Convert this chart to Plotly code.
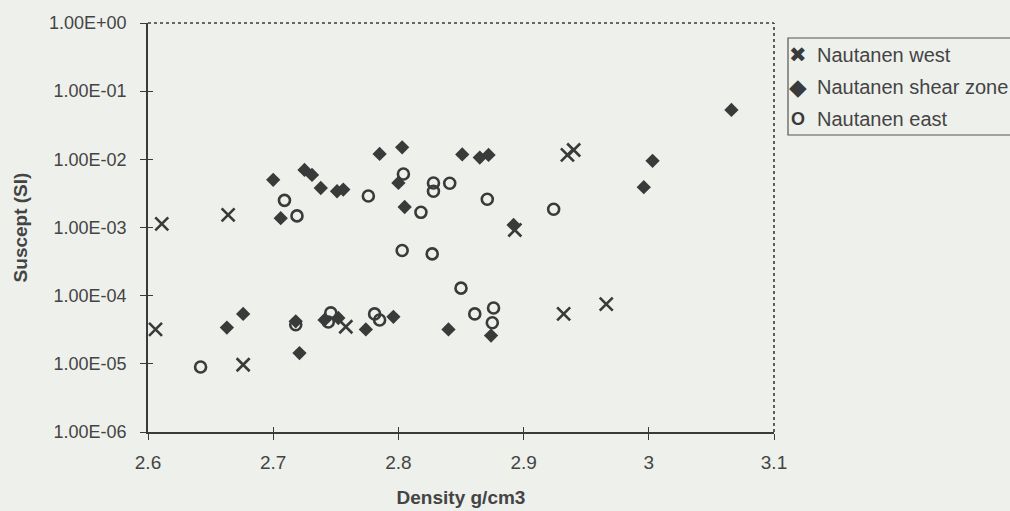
import plotly.graph_objects as go

# ---- data ----
west_x = [2.611, 2.664, 2.893, 2.935, 2.940, 2.606, 2.676, 2.758, 2.932, 2.966]
west_y = [1.13e-3, 1.53e-3, 9.2e-4, 1.16e-2, 1.37e-2, 3.2e-5, 9.7e-6, 3.5e-5, 5.4e-5, 7.5e-5]

shear_x = [2.700, 2.706, 2.725, 2.731, 2.738, 2.751, 2.756, 2.785, 2.803, 2.800,
           2.805, 2.851, 2.865, 2.872, 2.892, 2.996, 3.003, 3.066, 2.663, 2.676,
           2.718, 2.721, 2.741, 2.752, 2.774, 2.796, 2.840, 2.874]
shear_y = [5.0e-3, 1.37e-3, 7.0e-3, 5.9e-3, 3.8e-3, 3.4e-3, 3.6e-3, 1.2e-2, 1.5e-2, 4.5e-3,
           2.0e-3, 1.18e-2, 1.06e-2, 1.16e-2, 1.09e-3, 3.9e-3, 9.5e-3, 5.3e-2, 3.4e-5, 5.4e-5,
           4.2e-5, 1.44e-5, 4.4e-5, 4.7e-5, 3.2e-5, 4.9e-5, 3.2e-5, 2.6e-5]

east_x = [2.709, 2.719, 2.776, 2.804, 2.818, 2.828, 2.828, 2.841, 2.871, 2.924,
          2.803, 2.827, 2.642, 2.718, 2.746, 2.744, 2.781, 2.785, 2.850, 2.861,
          2.876, 2.875]
east_y = [2.5e-3, 1.48e-3, 2.9e-3, 6.1e-3, 1.67e-3, 4.5e-3, 3.4e-3, 4.45e-3, 2.6e-3, 1.85e-3,
          4.6e-4, 4.1e-4, 9.0e-6, 3.75e-5, 5.6e-5, 4.1e-5, 5.4e-5, 4.4e-5, 1.29e-4, 5.4e-5,
          6.6e-5, 4.0e-5]

series_names = ["Nautanen west", "Nautanen shear zone", "Nautanen east"]
legend_glyphs = ["\u2716", "\u25C6", "<b>O</b>"]

x_ticks = [2.6, 2.7, 2.8, 2.9, 3.0, 3.1]
x_ticktext = ["2.6", "2.7", "2.8", "2.9", "3", "3.1"]
y_ticks = [1e0, 1e-1, 1e-2, 1e-3, 1e-4, 1e-5, 1e-6]
y_ticktext = ["1.00E+00", "1.00E-01", "1.00E-02", "1.00E-03", "1.00E-04", "1.00E-05", "1.00E-06"]

x_title = "Density g/cm3"
y_title = "Suscept (SI)"

# ---- styling ----
BG = "#eef0ec"
INK = "#3a3a3a"
TXT = "#444444"
FONT = "Liberation Sans, Arial, sans-serif"

fig = go.Figure()
fig.add_trace(go.Scatter(
    x=west_x, y=west_y, mode="markers", name=series_names[0],
    marker=dict(symbol="x-thin-open", size=13, line=dict(width=2.6, color=INK), color=INK),
))
fig.add_trace(go.Scatter(
    x=shear_x, y=shear_y, mode="markers", name=series_names[1],
    marker=dict(symbol="diamond", size=11, color=INK, line=dict(width=0)),
))
fig.add_trace(go.Scatter(
    x=east_x, y=east_y, mode="markers", name=series_names[2],
    marker=dict(symbol="circle-open", size=11, line=dict(width=2.6, color=INK), color=INK),
))

# inner half of the crossing ticks (overlay axes, no labels)
fig.add_trace(go.Scatter(x=[None], y=[None], xaxis="x2", yaxis="y2", showlegend=False, hoverinfo="skip"))

# ---- legend drawn as box + text (reference legend is clipped at the right edge) ----
L, R, T, B = 148, 774, 23, 432
def px(xp):
    return (xp - L) / (R - L)
def py(yp):
    return (B - yp) / (B - T)

annotations = []
glyph_sizes = [21, 23, 18]
for i, (nm, gl) in enumerate(zip(series_names, legend_glyphs)):
    yc = 55 + 32 * i
    annotations.append(dict(xref="paper", yref="paper", x=px(798), y=py(yc), text=gl,
                            showarrow=False, xanchor="center", yanchor="middle",
                            font=dict(family="DejaVu Sans, sans-serif" if i < 2 else FONT,
                                      size=glyph_sizes[i], color=INK)))
    annotations.append(dict(xref="paper", yref="paper", x=px(815), y=py(yc), text=nm,
                            showarrow=False, xanchor="left", yanchor="middle",
                            font=dict(family=FONT, size=20, color=TXT)))

shapes = [
    dict(type="line", xref="paper", yref="paper", x0=0, x1=1, y0=1, y1=1,
         line=dict(color=INK, width=1.6, dash="dot")),
    dict(type="line", xref="paper", yref="paper", x0=1, x1=1, y0=0, y1=1,
         line=dict(color=INK, width=1.6, dash="dot")),
    dict(type="rect", xref="paper", yref="paper", x0=px(788), x1=px(1020), y0=py(135), y1=py(38),
         line=dict(color="#555555", width=1.2), fillcolor=BG, layer="below"),
]

fig.update_layout(
    width=1010, height=511,
    paper_bgcolor=BG, plot_bgcolor=BG,
    margin=dict(l=L, r=1010 - R, t=T, b=511 - B, autoexpand=False),
    font=dict(family=FONT, size=18, color=TXT),
    showlegend=False,
    xaxis=dict(
        range=[2.6, 3.1], tickvals=x_ticks, ticktext=x_ticktext,
        showgrid=False, zeroline=False, showline=True, linecolor=INK, linewidth=1.6,
        ticks="outside", ticklen=6, tickwidth=1.2, tickcolor=INK,
        tickfont=dict(family=FONT, size=19, color=TXT), ticklabelstandoff=6,
        title=dict(text="<b>" + x_title + "</b>", font=dict(family=FONT, size=19, color=TXT), standoff=19),
    ),
    yaxis=dict(
        type="log", range=[-6, 0], tickvals=y_ticks, ticktext=y_ticktext,
        showgrid=False, zeroline=False, showline=True, linecolor=INK, linewidth=1.6,
        ticks="outside", ticklen=6, tickwidth=1.2, tickcolor=INK,
        tickfont=dict(family=FONT, size=18, color=TXT), ticklabelstandoff=10,
        title=dict(text="<b>" + y_title + "</b>", font=dict(family=FONT, size=19, color=TXT), standoff=16),
    ),
    xaxis2=dict(
        overlaying="x", range=[2.6, 3.1], tickvals=x_ticks, showticklabels=False,
        showgrid=False, zeroline=False, showline=False,
        ticks="inside", ticklen=5, tickwidth=1.2, tickcolor=INK, side="bottom",
    ),
    yaxis2=dict(
        overlaying="y", type="log", range=[-6, 0], tickvals=y_ticks, showticklabels=False,
        showgrid=False, zeroline=False, showline=False,
        ticks="inside", ticklen=5, tickwidth=1.2, tickcolor=INK, side="left",
    ),
    shapes=shapes,
    annotations=annotations,
)

fig.write_html(
    "out.html",
    config=dict(displayModeBar=False),
    post_script="document.body.style.margin='0';document.body.style.background='%s';" % BG,
)
